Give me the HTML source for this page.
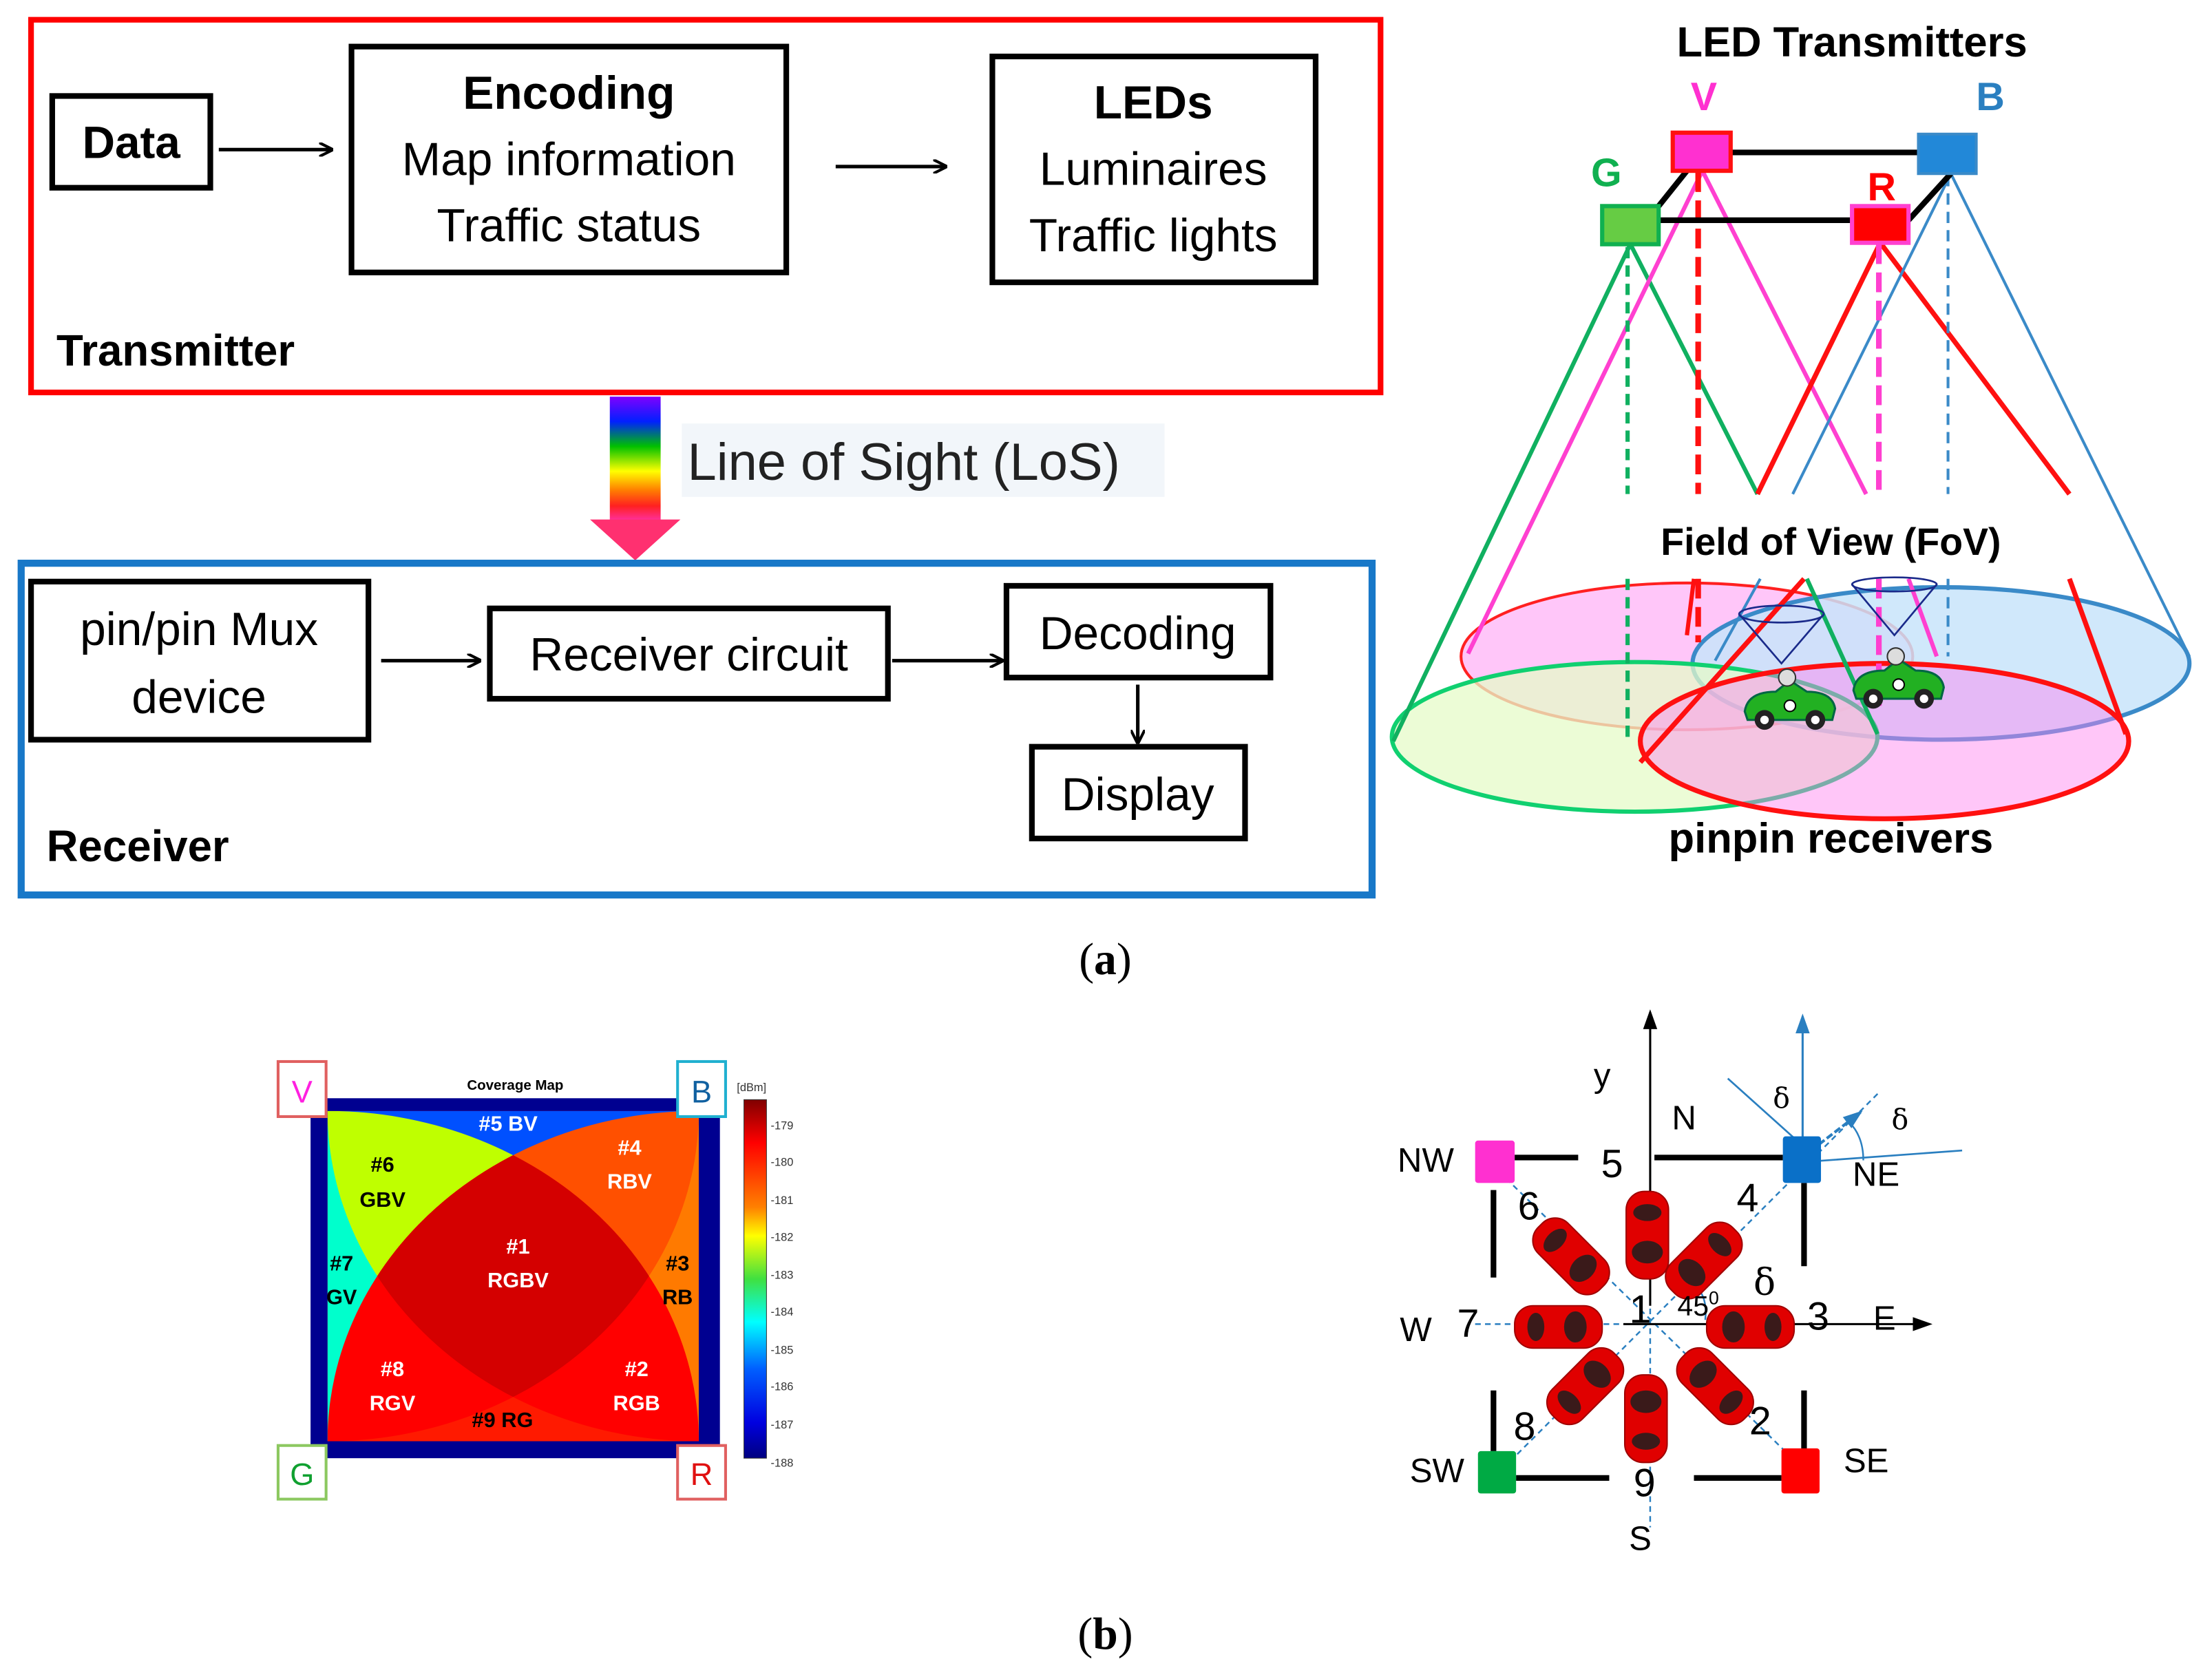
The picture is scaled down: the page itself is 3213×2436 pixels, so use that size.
<!DOCTYPE html>
<html><head><meta charset="utf-8"><style>html,body{margin:0;padding:0;background:#fff}svg{display:block}</style></head>
<body>
<svg xmlns="http://www.w3.org/2000/svg" width="3213" height="2436" viewBox="0 0 1567 1188" preserveAspectRatio="none" font-family="'Liberation Sans', 'DejaVu Sans', sans-serif">
<defs>
<marker id="ah" markerWidth="10" markerHeight="10" refX="9" refY="5" orient="auto" markerUnits="userSpaceOnUse"><path d="M0,0 L10,5 L0,10" fill="none" stroke="#000" stroke-width="2"/></marker>
<marker id="tb" markerWidth="14" markerHeight="14" refX="12" refY="7" orient="auto" markerUnits="userSpaceOnUse"><path d="M0,2 L14,7 L0,12 Z" fill="#000"/></marker>
<marker id="tbb" markerWidth="14" markerHeight="14" refX="12" refY="7" orient="auto" markerUnits="userSpaceOnUse"><path d="M0,2 L14,7 L0,12 Z" fill="#2a7fc0"/></marker>
<linearGradient id="rb" x1="0" y1="0" x2="0" y2="1">
<stop offset="0" stop-color="#8000ff"/><stop offset="0.2" stop-color="#0020ff"/><stop offset="0.4" stop-color="#00c000"/><stop offset="0.6" stop-color="#ffff00"/><stop offset="0.75" stop-color="#ff8000"/><stop offset="0.88" stop-color="#ff2020"/><stop offset="1" stop-color="#ff30a0"/></linearGradient>
<linearGradient id="cb" x1="0" y1="0" x2="0" y2="1">
<stop offset="0" stop-color="#800000"/><stop offset="0.12" stop-color="#ff0000"/><stop offset="0.3" stop-color="#ff8000"/><stop offset="0.38" stop-color="#ffff00"/><stop offset="0.5" stop-color="#40e040"/><stop offset="0.62" stop-color="#00ffff"/><stop offset="0.75" stop-color="#0060ff"/><stop offset="0.9" stop-color="#0000e0"/><stop offset="1" stop-color="#000080"/></linearGradient>
<clipPath id="sq"><rect x="232" y="787" width="263" height="234"/></clipPath>
<clipPath id="cV"><ellipse cx="232" cy="787" rx="263" ry="234"/></clipPath>
<clipPath id="cB"><ellipse cx="495" cy="787" rx="263" ry="234"/></clipPath>
<clipPath id="cG"><ellipse cx="232" cy="1021" rx="263" ry="234"/></clipPath>
<clipPath id="cR"><ellipse cx="495" cy="1021" rx="263" ry="234"/></clipPath>
<g id="car"><rect x="-31" y="-15" width="62" height="30" rx="13" fill="#e00000" stroke="#a00000"/><ellipse cx="-12" cy="0" rx="8" ry="11" fill="#3a1a1a"/><ellipse cx="16" cy="0" rx="6" ry="10" fill="#3a1a1a"/></g>
<g id="gcar"><path d="M-32,8 Q-30,-6 -10,-6 L0,-14 L12,-6 Q30,-6 32,6 L30,14 L-30,14 Z" fill="#22b022" stroke="#064" stroke-width="1.5"/><circle cx="-18" cy="14" r="7" fill="#222"/><circle cx="-18" cy="14" r="3" fill="#fff"/><circle cx="18" cy="14" r="7" fill="#222"/><circle cx="18" cy="14" r="3" fill="#fff"/><circle cx="0" cy="4" r="4" fill="#fff" stroke="#000"/><circle cx="-2" cy="-16" r="6" fill="#ddd" stroke="#333"/></g>
</defs>

<!-- Transmitter -->
<rect x="22" y="14" width="956" height="264" fill="none" stroke="#ff0000" stroke-width="4"/>
<rect x="37" y="68" width="112" height="65" fill="none" stroke="#000" stroke-width="4"/>
<text x="93" y="112" font-size="32" font-weight="bold" text-anchor="middle">Data</text>
<line x1="155" y1="106" x2="235" y2="106" stroke="#000" stroke-width="2.5" marker-end="url(#ah)"/>
<rect x="249" y="33" width="308" height="160" fill="none" stroke="#000" stroke-width="4"/>
<text x="403" y="77" font-size="33" font-weight="bold" text-anchor="middle">Encoding</text>
<text x="403" y="124" font-size="33" text-anchor="middle">Map information</text>
<text x="403" y="171" font-size="33" text-anchor="middle">Traffic status</text>
<line x1="592" y1="118" x2="670" y2="118" stroke="#000" stroke-width="2.5" marker-end="url(#ah)"/>
<rect x="703" y="40" width="229" height="160" fill="none" stroke="#000" stroke-width="4"/>
<text x="817" y="84" font-size="33" font-weight="bold" text-anchor="middle">LEDs</text>
<text x="817" y="131" font-size="33" text-anchor="middle">Luminaires</text>
<text x="817" y="178" font-size="33" text-anchor="middle">Traffic lights</text>
<text x="40" y="259" font-size="31" font-weight="bold">Transmitter</text>

<!-- LoS -->
<rect x="432" y="281" width="36" height="88" fill="url(#rb)"/>
<path d="M418,368 L482,368 L450,397 Z" fill="#ff3070"/>
<rect x="483" y="300" width="342" height="52" fill="#f2f6fa"/>
<text x="487" y="340" font-size="37" fill="#222">Line of Sight (LoS)</text>

<!-- Receiver -->
<rect x="15" y="399" width="957" height="235" fill="none" stroke="#1878c8" stroke-width="5"/>
<rect x="22" y="412" width="239" height="112" fill="none" stroke="#000" stroke-width="4"/>
<text x="141" y="457" font-size="33" text-anchor="middle">pin/pin Mux</text>
<text x="141" y="505" font-size="33" text-anchor="middle">device</text>
<line x1="270" y1="468" x2="340" y2="468" stroke="#000" stroke-width="2.5" marker-end="url(#ah)"/>
<rect x="347" y="431" width="282" height="64" fill="none" stroke="#000" stroke-width="4"/>
<text x="488" y="475" font-size="33" text-anchor="middle">Receiver circuit</text>
<line x1="632" y1="468" x2="710" y2="468" stroke="#000" stroke-width="2.5" marker-end="url(#ah)"/>
<rect x="713" y="415" width="187" height="65" fill="none" stroke="#000" stroke-width="4"/>
<text x="806" y="460" font-size="33" text-anchor="middle">Decoding</text>
<line x1="806" y1="485" x2="806" y2="526" stroke="#000" stroke-width="2.5" marker-end="url(#ah)"/>
<rect x="731" y="529" width="151" height="65" fill="none" stroke="#000" stroke-width="4"/>
<text x="806" y="574" font-size="33" text-anchor="middle">Display</text>
<text x="33" y="610" font-size="31" font-weight="bold">Receiver</text>

<text x="783" y="690" font-size="32" font-family="'Liberation Serif', serif" text-anchor="middle">(<tspan font-weight="bold">a</tspan>)</text>
<text x="783" y="1168" font-size="32" font-family="'Liberation Serif', serif" text-anchor="middle">(<tspan font-weight="bold">b</tspan>)</text>

<!-- Right 3D diagram -->
<text x="1312" y="40" font-size="30" font-weight="bold" text-anchor="middle">LED Transmitters</text>
<text x="1207" y="78" font-size="28" font-weight="bold" fill="#ff30d0" text-anchor="middle">V</text>
<text x="1410" y="78" font-size="28" font-weight="bold" fill="#2a7fc0" text-anchor="middle">B</text>
<text x="1138" y="132" font-size="28" font-weight="bold" fill="#10b050" text-anchor="middle">G</text>
<text x="1333" y="142" font-size="28" font-weight="bold" fill="#ff0000" text-anchor="middle">R</text>

<ellipse cx="1195" cy="465" rx="160" ry="52" fill="#ffc0f8" fill-opacity="0.9" stroke="#ff2020" stroke-width="2"/>
<ellipse cx="1375" cy="470" rx="176" ry="54" fill="#c8e4fa" fill-opacity="0.85" stroke="#3a8ac8" stroke-width="3"/>
<ellipse cx="1158" cy="522" rx="172" ry="53" fill="#e6fbc8" fill-opacity="0.75" stroke="#10d070" stroke-width="3"/>
<ellipse cx="1335" cy="525" rx="173" ry="55" fill="#ff80f0" fill-opacity="0.45" stroke="#ff1010" stroke-width="3.5"/>

<g fill="none" stroke-width="3">
<path d="M1155,173 L987,525" stroke="#10b060"/>
<path d="M1155,173 L1245,350" stroke="#10b060"/>
<path d="M1206,121 L1040,463" stroke="#ff40d0"/>
<path d="M1206,121 L1322,350" stroke="#ff40d0"/>
<path d="M1332,172 L1245,350" stroke="#ff1010" stroke-width="3.5"/>
<path d="M1332,172 L1466,350" stroke="#ff1010" stroke-width="3.5"/>
<path d="M1382,123 L1270,350" stroke="#3a8ac8" stroke-width="2"/>
<path d="M1382,123 L1551,465" stroke="#3a8ac8" stroke-width="2"/>
<path d="M1278,410 L1162,540" stroke="#ff1010" stroke-width="3.5"/>
<path d="M1466,410 L1506,520" stroke="#ff1010" stroke-width="3.5"/>
<path d="M1247,410 L1215,468" stroke="#3a8ac8" stroke-width="2"/>
<path d="M1280,410 L1330,520" stroke="#10b060"/>
<path d="M1352,410 L1372,465" stroke="#ff40d0"/>
<path d="M1200,410 L1195,450" stroke="#ff1010"/>
</g>
<g fill="none" stroke-dasharray="8,5">
<path d="M1153,175 V350 M1153,410 V522" stroke="#10b060" stroke-width="3"/>
<path d="M1203,122 V350 M1203,410 V455" stroke="#ff1010" stroke-width="4" stroke-dasharray="14,6"/>
<path d="M1331,173 V350 M1331,410 V500" stroke="#ff40d0" stroke-width="4" stroke-dasharray="14,6"/>
<path d="M1380,124 V350 M1380,410 V465" stroke="#3a8ac8" stroke-width="2"/>
</g>
<path d="M1195,108 H1359 M1175,156 H1312 M1195,121 L1175,146 M1382,123 L1352,156" stroke="#000" stroke-width="4" fill="none"/>
<rect x="1185" y="94" width="41" height="27" fill="#ff30d0" stroke="#ff1010" stroke-width="3"/>
<rect x="1359" y="95" width="41" height="28" fill="#2288d8" stroke="#3a8ac8" stroke-width="2"/>
<rect x="1135" y="146" width="40" height="27" fill="#66cc44" stroke="#10b050" stroke-width="3"/>
<rect x="1312" y="146" width="40" height="26" fill="#ff0000" stroke="#ff40d0" stroke-width="3"/>
<text x="1297" y="393" font-size="27" font-weight="bold" text-anchor="middle">Field of View (FoV)</text>
<g fill="none" stroke="#1a2a8a" stroke-width="1.3">
<ellipse cx="1262" cy="435" rx="30" ry="6"/><path d="M1232,435 L1262,470 L1292,435"/>
<ellipse cx="1342" cy="414" rx="30" ry="5"/><path d="M1312,414 L1342,450 L1372,414"/>
</g>
<use href="#gcar" x="1268" y="496"/>
<use href="#gcar" x="1345" y="481"/>
<text x="1297" y="604" font-size="30" font-weight="bold" text-anchor="middle">pinpin receivers</text>

<!-- Coverage map -->
<text x="365" y="772" font-size="10" font-weight="bold" text-anchor="middle">Coverage Map</text>
<rect x="220" y="778" width="290" height="255" fill="#000090"/>
<g clip-path="url(#sq)">
<rect x="232" y="787" width="263" height="234" fill="#ff1a00"/>
<path d="M232,787 L495,787 L364,904 Z" fill="#0050ff"/>
<path d="M232,787 L232,1021 L364,904 Z" fill="#00ffcc"/>
<path d="M495,787 L495,1021 L364,904 Z" fill="#ff7a00"/>
<g clip-path="url(#cG)"><g clip-path="url(#cB)"><rect x="232" y="787" width="263" height="234" fill="#bfff00" clip-path="url(#cV)"/></g></g>
<g clip-path="url(#cR)"><g clip-path="url(#cB)"><rect x="232" y="787" width="263" height="234" fill="#ff5000" clip-path="url(#cV)"/></g></g>
<g clip-path="url(#cR)"><g clip-path="url(#cG)"><rect x="232" y="787" width="263" height="234" fill="#ff0000" clip-path="url(#cB)"/></g></g>
<g clip-path="url(#cR)"><g clip-path="url(#cG)"><rect x="232" y="787" width="263" height="234" fill="#ff0000" clip-path="url(#cV)"/></g></g>
<g clip-path="url(#cR)"><g clip-path="url(#cG)"><g clip-path="url(#cB)"><rect x="232" y="787" width="263" height="234" fill="#d40000" clip-path="url(#cV)"/></g></g></g>
</g>
<g font-size="15" font-weight="bold" text-anchor="middle" fill="#fff">
<text x="360" y="801">#5 BV</text>
<text x="446" y="818">#4</text><text x="446" y="842">RBV</text>
<text x="367" y="888">#1</text><text x="367" y="912">RGBV</text>
<text x="278" y="975">#8</text><text x="278" y="999">RGV</text>
<text x="451" y="975">#2</text><text x="451" y="999">RGB</text>
<g fill="#000"><text x="271" y="830">#6</text><text x="271" y="855">GBV</text>
<text x="242" y="900">#7</text><text x="242" y="924">GV</text>
<text x="480" y="900">#3</text><text x="480" y="924">RB</text>
<text x="356" y="1011">#9 RG</text></g>
</g>
<rect x="197" y="752" width="34" height="39" fill="#fff" stroke="#e06060" stroke-width="2"/>
<text x="214" y="781" font-size="22" fill="#ff20e0" text-anchor="middle">V</text>
<rect x="480" y="752" width="34" height="39" fill="#fff" stroke="#20b0d0" stroke-width="2"/>
<text x="497" y="781" font-size="22" fill="#1060a0" text-anchor="middle">B</text>
<rect x="197" y="1024" width="34" height="38" fill="#fff" stroke="#8cc860" stroke-width="2"/>
<text x="214" y="1052" font-size="22" fill="#10a030" text-anchor="middle">G</text>
<rect x="480" y="1024" width="34" height="38" fill="#fff" stroke="#e06060" stroke-width="2"/>
<text x="497" y="1052" font-size="22" fill="#e01010" text-anchor="middle">R</text>
<rect x="527" y="779" width="16" height="254" fill="url(#cb)" stroke="#333" stroke-width="0.5"/>
<text x="522" y="773" font-size="8" fill="#333">[dBm]</text>
<g font-size="8" fill="#333">
<text x="546" y="800">-179</text><text x="546" y="826">-180</text><text x="546" y="853">-181</text><text x="546" y="879">-182</text><text x="546" y="906">-183</text><text x="546" y="932">-184</text><text x="546" y="959">-185</text><text x="546" y="985">-186</text><text x="546" y="1012">-187</text><text x="546" y="1039">-188</text>
</g>

<!-- Compass diagram -->
<g stroke="#2a7fc0" stroke-width="1.2" stroke-dasharray="4,3" fill="none">
<path d="M1060,1045 L1332,773"/><path d="M1062,830 L1287,1050"/><path d="M1169,815 V1082"/><path d="M1045,938 H1235"/>
</g>
<path d="M1169,925 V717" stroke="#000" stroke-width="1.5" marker-end="url(#tb)"/>
<path d="M1150,938 H1367" stroke="#000" stroke-width="1.5" marker-end="url(#tb)"/>
<path d="M1277,810 V720" stroke="#2a7fc0" stroke-width="1.5" marker-end="url(#tbb)"/>
<path d="M1280,823 L1390,815 M1273,808 L1224,764" stroke="#2a7fc0" stroke-width="1.3"/>
<path d="M1283,815 L1318,788" stroke="#2a7fc0" stroke-width="2" stroke-dasharray="5,2" marker-end="url(#tbb)"/>
<path d="M1310,795 Q1320,805 1320,822" stroke="#2a7fc0" stroke-width="1.2" fill="none"/>
<path d="M1200,910 Q1210,918 1208,935" stroke="#2a7fc0" stroke-width="1.2" fill="none"/>
<g stroke="#000" stroke-width="4" fill="none">
<path d="M1073,820 H1118 M1172,820 H1263 M1074,1047 H1140 M1200,1047 H1262 M1058,843 V905 M1058,985 V1028 M1278,838 V897 M1278,985 V1028"/>
</g>
<rect x="1045" y="808" width="28" height="30" rx="2" fill="#ff30d0"/>
<rect x="1263" y="805" width="27" height="33" rx="2" fill="#0a70c8"/>
<rect x="1047" y="1028" width="27" height="30" rx="2" fill="#00aa44"/>
<rect x="1262" y="1026" width="27" height="32" rx="2" fill="#ff0000"/>
<use href="#car" transform="translate(1167,875) rotate(-90)"/>
<use href="#car" transform="translate(1166,1005) rotate(90)"/>
<use href="#car" transform="translate(1104,940) rotate(180)"/>
<use href="#car" transform="translate(1240,940)"/>
<use href="#car" transform="translate(1113,890) rotate(-135)"/>
<use href="#car" transform="translate(1207,893) rotate(-45)"/>
<use href="#car" transform="translate(1123,982) rotate(135)"/>
<use href="#car" transform="translate(1215,982) rotate(45)"/>
<g font-size="24" fill="#000" text-anchor="middle">
<text x="1135" y="770">y</text><text x="1193" y="800">N</text><text x="1010" y="830">NW</text>
<text x="1142" y="834" font-size="28">5</text><text x="1329" y="840">NE</text>
<text x="1083" y="864" font-size="28">6</text><text x="1238" y="858" font-size="28">4</text>
<text x="1262" y="785" font-size="20" font-family="'DejaVu Serif', serif">δ</text>
<text x="1346" y="800" font-size="20" font-family="'DejaVu Serif', serif">δ</text>
<text x="1250" y="917" font-size="26" font-family="'DejaVu Serif', serif">δ</text>
<text x="1162" y="937" font-size="28">1</text><text x="1203" y="932" font-size="20">45<tspan font-size="13" dy="-8">0</tspan></text>
<text x="1288" y="942" font-size="28">3</text><text x="1335" y="942">E</text>
<text x="1003" y="950">W</text><text x="1040" y="947" font-size="28">7</text>
<text x="1080" y="1020" font-size="28">8</text><text x="1247" y="1016" font-size="28">2</text>
<text x="1018" y="1050">SW</text><text x="1322" y="1043">SE</text>
<text x="1165" y="1060" font-size="28">9</text><text x="1162" y="1098">S</text>
</g>
</svg>
</body></html>
